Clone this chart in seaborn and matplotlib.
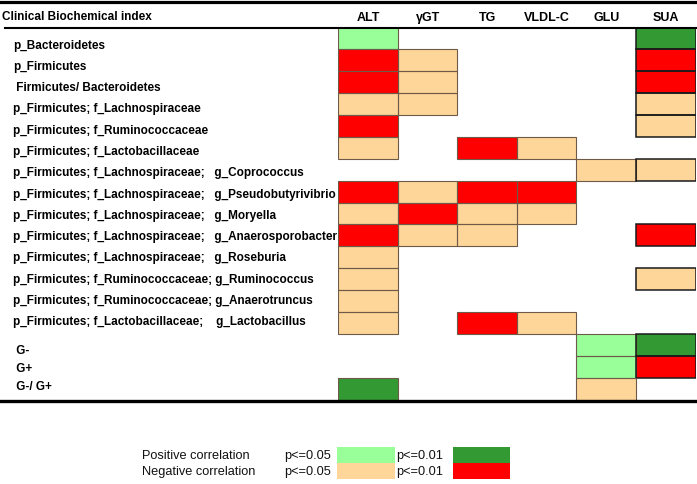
import numpy as np
import pandas as pd
import matplotlib
matplotlib.use("Agg")
import matplotlib.pyplot as plt
import seaborn as sns
from matplotlib.colors import ListedColormap
from matplotlib.patches import Rectangle
from matplotlib.lines import Line2D

nan = np.nan

# ---------------- data ----------------
taxa = [
    "p_Bacteroidetes",
    "p_Firmicutes",
    " Firmicutes/ Bacteroidetes",
    "p_Firmicutes; f_Lachnospiraceae",
    "p_Firmicutes; f_Ruminococcaceae",
    "p_Firmicutes; f_Lactobacillaceae",
    "p_Firmicutes; f_Lachnospiraceae;   g_Coprococcus",
    "p_Firmicutes; f_Lachnospiraceae;   g_Pseudobutyrivibrio",
    "p_Firmicutes; f_Lachnospiraceae;   g_Moryella",
    "p_Firmicutes; f_Lachnospiraceae;   g_Anaerosporobacter",
    "p_Firmicutes; f_Lachnospiraceae;   g_Roseburia",
    "p_Firmicutes; f_Ruminococcaceae; g_Ruminococcus",
    "p_Firmicutes; f_Ruminococcaceae; g_Anaerotruncus",
    "p_Firmicutes; f_Lactobacillaceae;    g_Lactobacillus",
    " G-",
    " G+",
    " G-/ G+",
]
indices = ["ALT", "γGT", "TG", "VLDL-C", "GLU", "SUA"]

# code: 2 = positive p<=0.01, 1 = positive p<=0.05,
#      -1 = negative p<=0.05, -2 = negative p<=0.01, nan = not significant
ALT  = [1, -2, -2, -1, -2, -1, nan, -2, -1, -2, -1, -1, -1, -1, nan, nan, 2]
GGT  = [nan, -1, -1, -1, nan, nan, nan, -1, -2, -1, nan, nan, nan, nan, nan, nan, nan]
TG   = [nan, nan, nan, nan, nan, -2, nan, -2, -1, -1, nan, nan, nan, -2, nan, nan, nan]
VLDL = [nan, nan, nan, nan, nan, -1, nan, -2, -1, nan, nan, nan, nan, -1, nan, nan, nan]
GLU  = [nan, nan, nan, nan, nan, nan, -1, nan, nan, nan, nan, nan, nan, nan, 1, 1, -1]
SUA  = [2, -2, -2, -1, -1, nan, -1, nan, nan, -2, nan, -1, nan, nan, 2, -2, nan]

legend_rows = ["Positive correlation", "Negative correlation"]
legend_levels = ["p<=0.05", "p<=0.01"]

df = pd.DataFrame({"ALT": ALT, "γGT": GGT, "TG": TG, "VLDL-C": VLDL,
                   "GLU": GLU, "SUA": SUA}, index=taxa)[indices]

# ---------------- style ----------------
RED, PEACH, LGREEN, DGREEN = "#FF0000", "#FFD699", "#99FF99", "#339933"
cmap = ListedColormap([RED, PEACH, "#FFFFFF", LGREEN, DGREEN])

W, H = 697, 484
fig = plt.figure(figsize=(W / 100, H / 100), dpi=100)
plt.rcParams["font.family"] = ["Liberation Sans", "DejaVu Sans"]

ax_left, ax_right, ax_top, ax_bot = 338.3, 695.5, 27.0, 400.0
ax = fig.add_axes([ax_left / W, 1 - ax_bot / H, (ax_right - ax_left) / W,
                   (ax_bot - ax_top) / H])

sns.heatmap(df, cmap=cmap, vmin=-2.5, vmax=2.5, cbar=False, ax=ax,
            linewidths=0, square=False)

# cell borders only for significant cells
vals = df.to_numpy()
for i, j in np.argwhere(~np.isnan(vals)):
    if indices[j] == "SUA":
        ec, lw = "#1a1a1a", 1.1
    else:
        ec, lw = "#6e5a48", 0.8
    ax.add_patch(Rectangle((j, i), 1, 1, fill=False, edgecolor=ec,
                           linewidth=lw, zorder=3))

# column headers on top
ax.xaxis.tick_top()
ax.set_xticklabels(indices, rotation=0, fontsize=9, fontweight="bold")
ax.tick_params(axis="x", length=0, pad=2.0)

# row labels: left aligned far to the left of the grid
row_unit = (ax_bot - ax_top) / len(taxa)
label_px = [45.5 + 21.3 * k for k in range(14)] + [351.0, 369.0, 387.0]
label_pos = [(p - ax_top) / row_unit for p in label_px]
ax.set_yticks(label_pos)
ax.set_yticklabels(taxa, rotation=0, fontsize=8.5, fontweight="bold")
pad_px = ax_left - 13.0
ax.tick_params(axis="y", length=0, pad=pad_px * 72 / 100)
for t in ax.get_yticklabels():
    t.set_horizontalalignment("left")

ax.set_xlabel("")
ax.set_ylabel("")
for s in ax.spines.values():
    s.set_visible(False)

# header text and rules
fig.text(1.7 / W, 1 - 17.2 / H, "Clinical Biochemical index", fontsize=8.5,
         fontweight="bold", va="center", ha="left")
fig.add_artist(Line2D([0, 1], [1 - 1.7 / H] * 2, color="black", lw=2.3,
                      transform=fig.transFigure))
fig.add_artist(Line2D([5 / W, 1], [1 - 27.8 / H] * 2, color="black", lw=1.5,
                      transform=fig.transFigure))
fig.add_artist(Line2D([0, 695 / W], [1 - 400.8 / H] * 2, color="black", lw=2.4,
                      transform=fig.transFigure, zorder=5))

# legend
row_y = [456.0, 472.0]
box_y = [(446.7, 462.7), (462.7, 478.7)]
colors = [[LGREEN, DGREEN], [PEACH, RED]]
lvl_x = [284.3, 396.0]
box_x = [(337.3, 395.0), (452.7, 510.0)]
for r in range(2):
    fig.text(142 / W, 1 - row_y[r] / H, legend_rows[r], fontsize=9.2,
             va="center", ha="left", color="#111111")
    for c in range(2):
        fig.text(lvl_x[c] / W, 1 - row_y[r] / H, legend_levels[c], fontsize=9.2,
                 va="center", ha="left", color="#111111")
        x0, x1 = box_x[c]
        y0, y1 = box_y[r]
        fig.add_artist(Rectangle((x0 / W, 1 - y1 / H), (x1 - x0) / W,
                                 (y1 - y0) / H, transform=fig.transFigure,
                                 facecolor=colors[r][c], edgecolor="none"))

fig.savefig("out.png", dpi=100)
